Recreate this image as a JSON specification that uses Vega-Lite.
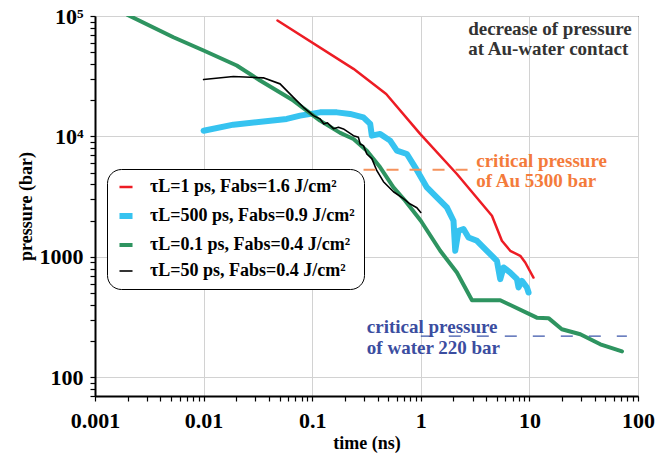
{
  "$schema": "https://vega.github.io/schema/vega-lite/v6.json",
  "width": 543,
  "height": 380,
  "autosize": {"type": "none"},
  "padding": {"left": 95, "top": 16, "right": 29, "bottom": 60},
  "background": "white",
  "config": {
    "view": {"stroke": "black", "strokeWidth": 1},
    "axis": {
      "domainColor": "black", "domainWidth": 2,
      "ticks": true, "tickColor": "black", "tickWidth": 1.2, "tickSize": 5, "tickOpacity": 1,
      "gridColor": "#d2d2d2", "gridWidth": 1,
      "labelFont": "Liberation Serif", "labelFontWeight": "bold", "labelFontSize": 22, "labelColor": "black",
      "titleFont": "Liberation Serif", "titleFontWeight": "bold", "titleFontSize": 18, "titleColor": "black",
      "labelOverlap": false, "labelFlush": false, "labelBound": false
    }
  },
  "layer": [
    {
      "data": {"values": [
        {"series": "τL=500 ps, Fabs=0.9 J/cm²", "time": 0.01, "pressure": 11160},
        {"series": "τL=500 ps, Fabs=0.9 J/cm²", "time": 0.0188, "pressure": 12530},
        {"series": "τL=500 ps, Fabs=0.9 J/cm²", "time": 0.0583, "pressure": 13980},
        {"series": "τL=500 ps, Fabs=0.9 J/cm²", "time": 0.0775, "pressure": 14890},
        {"series": "τL=500 ps, Fabs=0.9 J/cm²", "time": 0.118, "pressure": 15850},
        {"series": "τL=500 ps, Fabs=0.9 J/cm²", "time": 0.169, "pressure": 15850},
        {"series": "τL=500 ps, Fabs=0.9 J/cm²", "time": 0.223, "pressure": 15380},
        {"series": "τL=500 ps, Fabs=0.9 J/cm²", "time": 0.296, "pressure": 14420},
        {"series": "τL=500 ps, Fabs=0.9 J/cm²", "time": 0.342, "pressure": 12700},
        {"series": "τL=500 ps, Fabs=0.9 J/cm²", "time": 0.354, "pressure": 10160},
        {"series": "τL=500 ps, Fabs=0.9 J/cm²", "time": 0.4225, "pressure": 10500},
        {"series": "τL=500 ps, Fabs=0.9 J/cm²", "time": 0.522, "pressure": 9230},
        {"series": "τL=500 ps, Fabs=0.9 J/cm²", "time": 0.602, "pressure": 7620},
        {"series": "τL=500 ps, Fabs=0.9 J/cm²", "time": 0.745, "pressure": 7150},
        {"series": "τL=500 ps, Fabs=0.9 J/cm²", "time": 0.888, "pressure": 5540},
        {"series": "τL=500 ps, Fabs=0.9 J/cm²", "time": 1.138, "pressure": 3775},
        {"series": "τL=500 ps, Fabs=0.9 J/cm²", "time": 1.406, "pressure": 3120},
        {"series": "τL=500 ps, Fabs=0.9 J/cm²", "time": 1.738, "pressure": 2575},
        {"series": "τL=500 ps, Fabs=0.9 J/cm²", "time": 2.0, "pressure": 1995},
        {"series": "τL=500 ps, Fabs=0.9 J/cm²", "time": 2.075, "pressure": 1124},
        {"series": "τL=500 ps, Fabs=0.9 J/cm²", "time": 2.224, "pressure": 1648},
        {"series": "τL=500 ps, Fabs=0.9 J/cm²", "time": 2.473, "pressure": 1702},
        {"series": "τL=500 ps, Fabs=0.9 J/cm²", "time": 2.75, "pressure": 1449},
        {"series": "τL=500 ps, Fabs=0.9 J/cm²", "time": 3.29, "pressure": 1360},
        {"series": "τL=500 ps, Fabs=0.9 J/cm²", "time": 4.06, "pressure": 1124},
        {"series": "τL=500 ps, Fabs=0.9 J/cm²", "time": 5.02, "pressure": 928},
        {"series": "τL=500 ps, Fabs=0.9 J/cm²", "time": 5.39, "pressure": 654},
        {"series": "τL=500 ps, Fabs=0.9 J/cm²", "time": 5.78, "pressure": 817},
        {"series": "τL=500 ps, Fabs=0.9 J/cm²", "time": 6.66, "pressure": 741},
        {"series": "τL=500 ps, Fabs=0.9 J/cm²", "time": 7.68, "pressure": 654},
        {"series": "τL=500 ps, Fabs=0.9 J/cm²", "time": 7.94, "pressure": 557},
        {"series": "τL=500 ps, Fabs=0.9 J/cm²", "time": 8.53, "pressure": 633},
        {"series": "τL=500 ps, Fabs=0.9 J/cm²", "time": 9.49, "pressure": 557},
        {"series": "τL=500 ps, Fabs=0.9 J/cm²", "time": 9.82, "pressure": 506},
        {"series": "τL=0.1 ps, Fabs=0.4 J/cm²", "time": 0.002, "pressure": 102000},
        {"series": "τL=0.1 ps, Fabs=0.4 J/cm²", "time": 0.00527, "pressure": 66600},
        {"series": "τL=0.1 ps, Fabs=0.4 J/cm²", "time": 0.01, "pressure": 51700},
        {"series": "τL=0.1 ps, Fabs=0.4 J/cm²", "time": 0.0202, "pressure": 38800},
        {"series": "τL=0.1 ps, Fabs=0.4 J/cm²", "time": 0.0331, "pressure": 29100},
        {"series": "τL=0.1 ps, Fabs=0.4 J/cm²", "time": 0.0671, "pressure": 19850},
        {"series": "τL=0.1 ps, Fabs=0.4 J/cm²", "time": 0.118, "pressure": 13530},
        {"series": "τL=0.1 ps, Fabs=0.4 J/cm²", "time": 0.181, "pressure": 10700},
        {"series": "τL=0.1 ps, Fabs=0.4 J/cm²", "time": 0.24, "pressure": 9530},
        {"series": "τL=0.1 ps, Fabs=0.4 J/cm²", "time": 0.3185, "pressure": 7620},
        {"series": "τL=0.1 ps, Fabs=0.4 J/cm²", "time": 0.4225, "pressure": 5540},
        {"series": "τL=0.1 ps, Fabs=0.4 J/cm²", "time": 0.56, "pressure": 3775},
        {"series": "τL=0.1 ps, Fabs=0.4 J/cm²", "time": 0.718, "pressure": 2925},
        {"series": "τL=0.1 ps, Fabs=0.4 J/cm²", "time": 1.0, "pressure": 1995},
        {"series": "τL=0.1 ps, Fabs=0.4 J/cm²", "time": 1.51, "pressure": 1124},
        {"series": "τL=0.1 ps, Fabs=0.4 J/cm²", "time": 2.15, "pressure": 741},
        {"series": "τL=0.1 ps, Fabs=0.4 J/cm²", "time": 2.96, "pressure": 437},
        {"series": "τL=0.1 ps, Fabs=0.4 J/cm²", "time": 5.39, "pressure": 437},
        {"series": "τL=0.1 ps, Fabs=0.4 J/cm²", "time": 11.7, "pressure": 313},
        {"series": "τL=0.1 ps, Fabs=0.4 J/cm²", "time": 15.0, "pressure": 310},
        {"series": "τL=0.1 ps, Fabs=0.4 J/cm²", "time": 19.9, "pressure": 251},
        {"series": "τL=0.1 ps, Fabs=0.4 J/cm²", "time": 29.4, "pressure": 228},
        {"series": "τL=0.1 ps, Fabs=0.4 J/cm²", "time": 45, "pressure": 188},
        {"series": "τL=0.1 ps, Fabs=0.4 J/cm²", "time": 71.2, "pressure": 164},
        {"series": "τL=1 ps, Fabs=1.6 J/cm²", "time": 0.0479, "pressure": 91800},
        {"series": "τL=1 ps, Fabs=1.6 J/cm²", "time": 0.24, "pressure": 36400},
        {"series": "τL=1 ps, Fabs=1.6 J/cm²", "time": 0.48, "pressure": 22500},
        {"series": "τL=1 ps, Fabs=1.6 J/cm²", "time": 0.986, "pressure": 10500},
        {"series": "τL=1 ps, Fabs=1.6 J/cm²", "time": 2.15, "pressure": 4880},
        {"series": "τL=1 ps, Fabs=1.6 J/cm²", "time": 4.52, "pressure": 2197},
        {"series": "τL=1 ps, Fabs=1.6 J/cm²", "time": 5.58, "pressure": 1360},
        {"series": "τL=1 ps, Fabs=1.6 J/cm²", "time": 6.66, "pressure": 1124},
        {"series": "τL=1 ps, Fabs=1.6 J/cm²", "time": 8.24, "pressure": 1021},
        {"series": "τL=1 ps, Fabs=1.6 J/cm²", "time": 9.16, "pressure": 898},
        {"series": "τL=1 ps, Fabs=1.6 J/cm²", "time": 10.9, "pressure": 674},
        {"series": "τL=50 ps, Fabs=0.4 J/cm²", "time": 0.01, "pressure": 29660},
        {"series": "τL=50 ps, Fabs=0.4 J/cm²", "time": 0.0188, "pressure": 31420},
        {"series": "τL=50 ps, Fabs=0.4 J/cm²", "time": 0.0355, "pressure": 30650},
        {"series": "τL=50 ps, Fabs=0.4 J/cm²", "time": 0.0506, "pressure": 27320},
        {"series": "τL=50 ps, Fabs=0.4 J/cm²", "time": 0.0671, "pressure": 21130},
        {"series": "τL=50 ps, Fabs=0.4 J/cm²", "time": 0.083, "pressure": 17460},
        {"series": "τL=50 ps, Fabs=0.4 J/cm²", "time": 0.1026, "pressure": 14890},
        {"series": "τL=50 ps, Fabs=0.4 J/cm²", "time": 0.118, "pressure": 14000},
        {"series": "τL=50 ps, Fabs=0.4 J/cm²", "time": 0.128, "pressure": 12700},
        {"series": "τL=50 ps, Fabs=0.4 J/cm²", "time": 0.138, "pressure": 13000},
        {"series": "τL=50 ps, Fabs=0.4 J/cm²", "time": 0.157, "pressure": 11600},
        {"series": "τL=50 ps, Fabs=0.4 J/cm²", "time": 0.1744, "pressure": 11900},
        {"series": "τL=50 ps, Fabs=0.4 J/cm²", "time": 0.1939, "pressure": 11540},
        {"series": "τL=50 ps, Fabs=0.4 J/cm²", "time": 0.2398, "pressure": 10150},
        {"series": "τL=50 ps, Fabs=0.4 J/cm²", "time": 0.2666, "pressure": 9830},
        {"series": "τL=50 ps, Fabs=0.4 J/cm²", "time": 0.2763, "pressure": 8660},
        {"series": "τL=50 ps, Fabs=0.4 J/cm²", "time": 0.2964, "pressure": 8385},
        {"series": "τL=50 ps, Fabs=0.4 J/cm²", "time": 0.3185, "pressure": 7150},
        {"series": "τL=50 ps, Fabs=0.4 J/cm²", "time": 0.3542, "pressure": 6540},
        {"series": "τL=50 ps, Fabs=0.4 J/cm²", "time": 0.3939, "pressure": 5195},
        {"series": "τL=50 ps, Fabs=0.4 J/cm²", "time": 0.4532, "pressure": 4210},
        {"series": "τL=50 ps, Fabs=0.4 J/cm²", "time": 0.5603, "pressure": 3476},
        {"series": "τL=50 ps, Fabs=0.4 J/cm²", "time": 0.6925, "pressure": 3041},
        {"series": "τL=50 ps, Fabs=0.4 J/cm²", "time": 0.7984, "pressure": 2747},
        {"series": "τL=50 ps, Fabs=0.4 J/cm²", "time": 0.9203, "pressure": 2559},
        {"series": "τL=50 ps, Fabs=0.4 J/cm²", "time": 1.0, "pressure": 2339}
      ]},
      "mark": {"type": "line", "strokeJoin": "round", "strokeCap": "round", "clip": true},
      "encoding": {
        "x": {
          "field": "time", "type": "quantitative",
          "scale": {"type": "log", "domain": [0.001, 100], "nice": false},
          "axis": {
            "title": "time (ns)",
            "values": [0.001,0.002,0.003,0.004,0.005,0.006,0.007,0.008,0.009,0.01,0.02,0.03,0.04,0.05,0.06,0.07,0.08,0.09,0.1,0.2,0.3,0.4,0.5,0.6,0.7,0.8,0.9,1,2,3,4,5,6,7,8,9,10,20,30,40,50,60,70,80,90,100],
            "labelExpr": "abs(log(datum.value)/LN10 - round(log(datum.value)/LN10)) < 0.001 ? toString(datum.value) : ''",
            "gridOpacity": {"condition": {"test": "abs(log(datum.value)/LN10 - round(log(datum.value)/LN10)) < 0.001", "value": 1}, "value": 0},
            "ticks": true, "tickSize": 5, "tickColor": "black", "tickOpacity": 1,
            "labelPadding": 9,
            "titlePadding": 3,
            "encode": {"ticks": {"update": {"y2": {"value": -5}}}}
          }
        },
        "y": {
          "field": "pressure", "type": "quantitative",
          "scale": {"type": "log", "domain": [70, 100000], "nice": false},
          "axis": {
            "title": "pressure (bar)",
            "values": [70,80,90,100,200,300,400,500,600,700,800,900,1000,2000,3000,4000,5000,6000,7000,8000,9000,10000,20000,30000,40000,50000,60000,70000,80000,90000,100000],
            "labelExpr": "abs(log(datum.value)/LN10 - round(log(datum.value)/LN10)) < 0.001 ? (datum.value > 99000 ? '10⁵' : datum.value > 9900 ? '10⁴' : toString(datum.value)) : ''",
            "gridOpacity": {"condition": {"test": "abs(log(datum.value)/LN10 - round(log(datum.value)/LN10)) < 0.001", "value": 1}, "value": 0},
            "ticks": true, "tickSize": 5, "tickColor": "black", "tickOpacity": 1,
            "labelPadding": 7,
            "titlePadding": 4,
            "encode": {"ticks": {"update": {"x2": {"value": 5}}}}
          }
        },
        "color": {
          "field": "series", "type": "nominal",
          "scale": {
            "domain": ["τL=1 ps, Fabs=1.6 J/cm²", "τL=500 ps, Fabs=0.9 J/cm²", "τL=0.1 ps, Fabs=0.4 J/cm²", "τL=50 ps, Fabs=0.4 J/cm²"],
            "range": ["#ED1C24", "#36C3F0", "#2E9460", "#000000"]
          },
          "legend": {
            "title": null,
            "orient": "none", "legendX": 12, "legendY": 153,
            "labelFont": "Liberation Serif", "labelFontWeight": "bold", "labelFontSize": 18, "labelColor": "black", "labelLimit": 400,
            "symbolType": "stroke", "symbolSize": 170,
            "strokeColor": "black", "fillColor": "white", "cornerRadius": 14, "padding": 9,
            "rowPadding": 8, "labelOffset": 14
          }
        },
        "strokeWidth": {
          "field": "series", "type": "nominal",
          "scale": {
            "type": "ordinal",
            "domain": ["τL=1 ps, Fabs=1.6 J/cm²", "τL=500 ps, Fabs=0.9 J/cm²", "τL=0.1 ps, Fabs=0.4 J/cm²", "τL=50 ps, Fabs=0.4 J/cm²"],
            "range": [2.5, 6, 4, 1.6]
          },
          "legend": {
            "title": null,
            "orient": "none", "legendX": 12, "legendY": 153,
            "labelFont": "Liberation Serif", "labelFontWeight": "bold", "labelFontSize": 18, "labelColor": "black", "labelLimit": 400,
            "symbolType": "stroke", "symbolSize": 170,
            "strokeColor": "black", "fillColor": "white", "cornerRadius": 14, "padding": 9,
            "rowPadding": 8, "labelOffset": 14
          }
        }
      }
    },
    {
      "data": {"values": [{}]},
      "layer": [
        {
          "mark": {"type": "rule", "color": "#F5925C", "strokeWidth": 2, "strokeDash": [12, 11]},
          "encoding": {
            "x": {"datum": 0.297, "type": "quantitative"},
            "x2": {"datum": 3.5},
            "y": {"datum": 5300, "type": "quantitative"}
          }
        },
        {
          "mark": {"type": "rule", "color": "#3B55AA", "strokeWidth": 1.4, "strokeDash": [12, 16]},
          "encoding": {
            "x": {"datum": 1.0, "type": "quantitative"},
            "x2": {"datum": 79},
            "y": {"datum": 220, "type": "quantitative"}
          }
        },
        {
          "mark": {"type": "text", "align": "left", "baseline": "alphabetic", "font": "Liberation Serif", "fontWeight": "bold", "fontSize": 19, "lineHeight": 20, "color": "#333333"},
          "encoding": {
            "x": {"datum": 2.73, "type": "quantitative"},
            "y": {"datum": 69780, "type": "quantitative"},
            "text": {"value": ["decrease of pressure", "at Au-water contact"]}
          }
        },
        {
          "mark": {"type": "text", "align": "left", "baseline": "alphabetic", "font": "Liberation Serif", "fontWeight": "bold", "fontSize": 19, "lineHeight": 20, "color": "#F47B3B"},
          "encoding": {
            "x": {"datum": 3.24, "type": "quantitative"},
            "y": {"datum": 5535, "type": "quantitative"},
            "text": {"value": ["critical pressure", "of Au 5300 bar"]}
          }
        },
        {
          "mark": {"type": "text", "align": "left", "baseline": "alphabetic", "font": "Liberation Serif", "fontWeight": "bold", "fontSize": 19, "lineHeight": 21, "color": "#3B4DA0"},
          "encoding": {
            "x": {"datum": 0.3185, "type": "quantitative"},
            "y": {"datum": 232.6, "type": "quantitative"},
            "text": {"value": ["critical pressure", "of water 220 bar"]}
          }
        }
      ]
    }
  ]
}
